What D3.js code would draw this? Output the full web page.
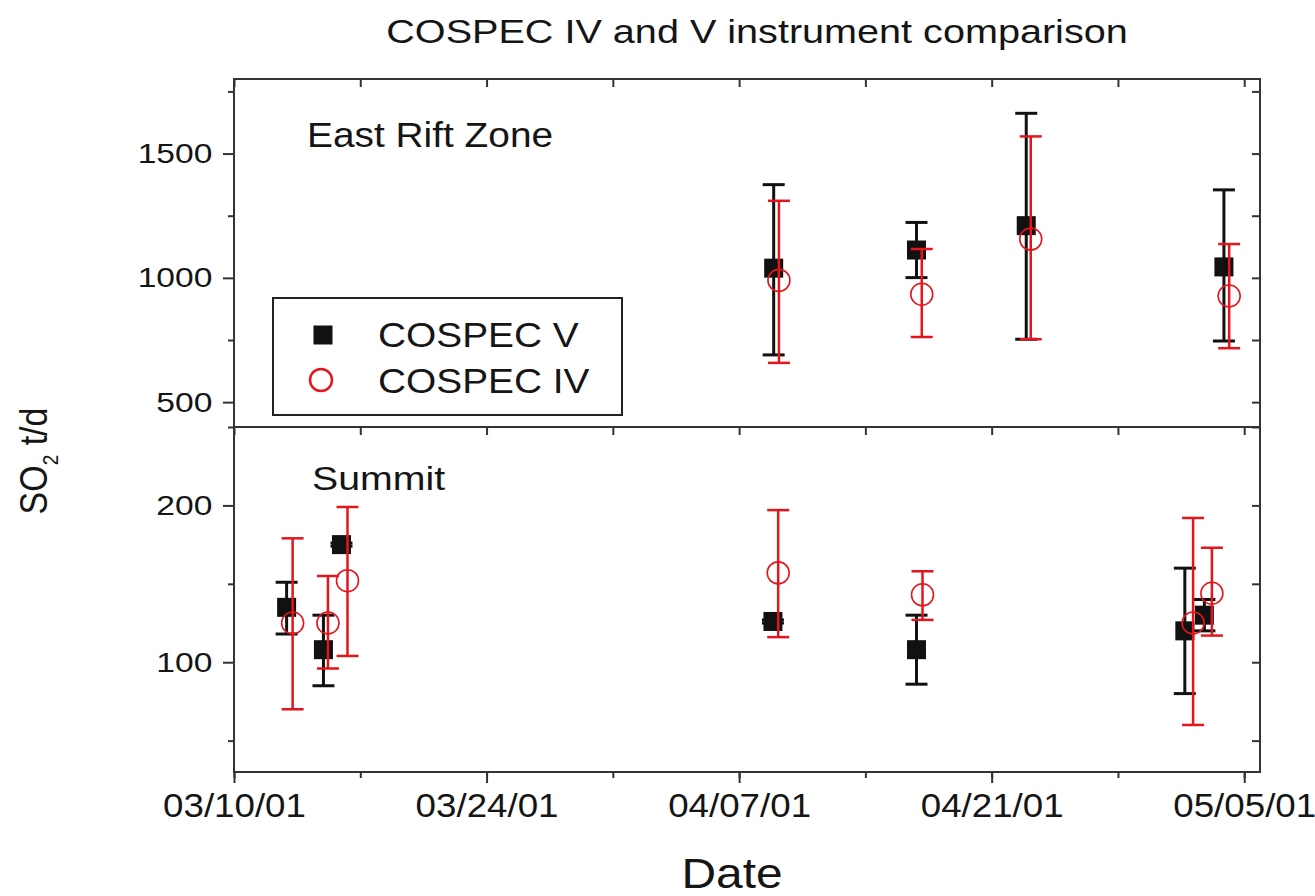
<!DOCTYPE html>
<html>
<head>
<meta charset="utf-8">
<script src="https://cdn.jsdelivr.net/npm/d3@7"></script>
<style>
	body { margin: 0; background: #fff; }
	text { font-family: "Liberation Sans", Arial, sans-serif; fill: #151515; }
</style>
</head>
<body>
<script>
// tick dates on the x axis (every two weeks)
var tickDates = ["2001-03-10", "2001-03-24", "2001-04-07", "2001-04-21", "2001-05-05"];

// East Rift Zone, COSPEC V
var erzDatesV = ["2001-04-08T22:00", "2001-04-16T20:00", "2001-04-22T22:00", "2001-05-03T21:00"];
var erzV    = [1039, 1112, 1210, 1044];
var erzV_lo = [690, 1001, 753, 746];
var erzV_hi = [1375, 1223, 1662, 1354];

// East Rift Zone, COSPEC IV
var erzDatesIV = ["2001-04-09T05:00", "2001-04-17T03:00", "2001-04-23T04:00", "2001-05-04T04:00"];
var erzIV    = [990, 934, 1156, 927];
var erzIV_lo = [658, 762, 753, 717];
var erzIV_hi = [1310, 1116, 1569, 1136];

// Summit, COSPEC V
var sumDatesV = ["2001-03-12T22:00", "2001-03-14T23:00", "2001-03-15T23:00", "2001-04-08T21:00",
	"2001-04-16T20:00", "2001-05-01T17:00", "2001-05-02T19:00"];
var sumV    = [135, 108, 175, 126, 108, 120, 130];
var sumV_lo = [118, 85, 174, 125, 86, 80, 120];
var sumV_hi = [151, 130, 176, 127, 130, 160, 140];

// Summit, COSPEC IV
var sumDatesIV = ["2001-03-13T06:00", "2001-03-15T05:00", "2001-03-16T07:00", "2001-04-09T04:00",
	"2001-04-17T04:00", "2001-05-02T04:00", "2001-05-03T05:00"];
var sumIV    = [125, 125, 152, 157, 143, 125, 144];
var sumIV_lo = [70, 96, 104, 116, 127, 60, 117];
var sumIV_hi = [179, 155, 199, 197, 158, 192, 173];

var erzTicks = [500, 1000, 1500], erzMinor = [750, 1250, 1750];
var sumTicks = [100, 200], sumMinor = [50, 150, 250];

var parseDay = d3.timeParse("%Y-%m-%d");
var parseTime = d3.timeParse("%Y-%m-%dT%H:%M");

var red = "#e3161c", black = "#111";

var svg = d3.select("body").append("svg")
	.attr("width", 1315)
	.attr("height", 896);

// plot area (panel edges)
var pLeft = 234, pRight = 1260, pTop = 79, pMid = 427, pBottom = 772;

var x = d3.scaleTime()
	.domain([parseDay("2001-03-10"), parseTime("2001-05-05T21:00")])
	.range([pLeft, pRight]);
var yTop = d3.scaleLinear().domain([400, 1800]).range([pMid, pTop]);
var yBot = d3.scaleLinear().domain([30, 250]).range([pBottom, pMid]);

var majorX = tickDates.map(parseDay);
var minorX = d3.timeDay.range(parseDay("2001-03-10"), x.domain()[1], 7);

// stretched text helper (the original type is a bit wide)
function label(px, py, str, size, sx, anchor) {
	return svg.append("text")
		.attr("transform", "translate(" + px + "," + py + ") scale(" + sx + ",1)")
		.attr("font-size", size)
		.style("text-anchor", anchor || "start")
		.text(str);
}

function noDomain(g) {
	g.select(".domain").remove();
	g.selectAll("line").attr("stroke", "#333").attr("stroke-width", 2);
}

// ---- x axes
svg.append("g").attr("transform", "translate(0," + pBottom + ")")
	.call(d3.axisBottom(x).tickValues(minorX).tickSize(6).tickFormat(""))
	.call(noDomain);
var xAxis = svg.append("g").attr("transform", "translate(0," + pBottom + ")")
	.call(d3.axisBottom(x).tickValues(majorX).tickSize(11).tickPadding(10).tickFormat(d3.timeFormat("%m/%d/%y")))
	.call(noDomain);
xAxis.selectAll("text").attr("font-size", 34).attr("font-family", null).attr("fill", "#151515")
	.attr("transform", "scale(1.08,1)");

// inner ticks on the top edges of both panels
[pTop, pMid].forEach(function(yy) {
	svg.append("g").attr("transform", "translate(0," + yy + ")")
		.call(d3.axisBottom(x).tickValues(minorX).tickSize(8).tickFormat(""))
		.call(noDomain);
});

// ---- y axes
function yAxes(scale, major, minor) {
	var g = svg.append("g").attr("transform", "translate(" + pLeft + ",0)")
		.call(d3.axisLeft(scale).tickValues(major).tickSize(11).tickPadding(7).tickFormat(d3.format("d")))
		.call(noDomain);
	g.selectAll("text").attr("font-size", 28).attr("font-family", null).attr("fill", "#151515")
		.attr("transform", "scale(1.2,1)");
	svg.append("g").attr("transform", "translate(" + pLeft + ",0)")
		.call(d3.axisLeft(scale).tickValues(minor).tickSize(6).tickFormat(""))
		.call(noDomain);
	svg.append("g").attr("transform", "translate(" + pRight + ",0)")
		.call(d3.axisRight(scale).tickValues(major.concat(minor)).tickSize(-8).tickFormat(""))
		.call(noDomain);
}
yAxes(yTop, erzTicks, erzMinor);
yAxes(yBot, sumTicks, sumMinor);

// frame and panel divider
svg.append("rect")
	.attr("x", pLeft).attr("y", pTop)
	.attr("width", pRight - pLeft).attr("height", pBottom - pTop)
	.attr("fill", "none").attr("stroke", "#333").attr("stroke-width", 2);
svg.append("line")
	.attr("x1", pLeft).attr("x2", pRight).attr("y1", pMid).attr("y2", pMid)
	.attr("stroke", "#333").attr("stroke-width", 2);

// ---- data
function series(dates, vals, lo, hi) {
	return dates.map(function(d, i) {
		return {date: parseTime(d), v: vals[i], lo: lo[i], hi: hi[i]};
	});
}

function errorBars(data, y, color, w, cap) {
	var g = svg.append("g").attr("stroke", color).attr("stroke-width", w);
	data.forEach(function(d) {
		var cx = x(d.date);
		g.append("line").attr("x1", cx).attr("x2", cx).attr("y1", y(d.lo)).attr("y2", y(d.hi));
		g.append("line").attr("x1", cx - cap).attr("x2", cx + cap).attr("y1", y(d.lo)).attr("y2", y(d.lo));
		g.append("line").attr("x1", cx - cap).attr("x2", cx + cap).attr("y1", y(d.hi)).attr("y2", y(d.hi));
	});
}

function squares(data, y) {
	svg.append("g").selectAll("rect").data(data).enter().append("rect")
		.attr("x", function(d) { return x(d.date) - 9.5; })
		.attr("y", function(d) { return y(d.v) - 9.5; })
		.attr("width", 19).attr("height", 19)
		.attr("fill", black);
}

function circles(data, y) {
	svg.append("g").selectAll("circle").data(data).enter().append("circle")
		.attr("cx", function(d) { return x(d.date); })
		.attr("cy", function(d) { return y(d.v); })
		.attr("r", 11)
		.attr("fill", "none")
		.attr("stroke", red).attr("stroke-width", 1.6);
}

var erzVdata = series(erzDatesV, erzV, erzV_lo, erzV_hi);
var erzIVdata = series(erzDatesIV, erzIV, erzIV_lo, erzIV_hi);
var sumVdata = series(sumDatesV, sumV, sumV_lo, sumV_hi);
var sumIVdata = series(sumDatesIV, sumIV, sumIV_lo, sumIV_hi);

errorBars(erzVdata, yTop, black, 3, 11);
squares(erzVdata, yTop);
errorBars(erzIVdata, yTop, red, 2.5, 11);
circles(erzIVdata, yTop);

errorBars(sumVdata, yBot, black, 3, 11);
squares(sumVdata, yBot);
errorBars(sumIVdata, yBot, red, 2.5, 11);
circles(sumIVdata, yBot);

// ---- texts
label(757, 43, "COSPEC IV and V instrument comparison", 33, 1.2, "middle");
label(307, 147, "East Rift Zone", 35, 1.11);
label(312, 490, "Summit", 33, 1.19);
label(732, 888, "Date", 42, 1.14, "middle");

var ylab = svg.append("text")
	.attr("transform", "translate(47,461) scale(1.12,1) rotate(-90)")
	.attr("font-size", 34)
	.style("text-anchor", "middle");
ylab.append("tspan").text("SO");
ylab.append("tspan").attr("font-size", 19).attr("dy", 10).text("2");
ylab.append("tspan").attr("dy", -10).text(" t/d");

// ---- legend
svg.append("rect")
	.attr("x", 273).attr("y", 298).attr("width", 349).attr("height", 117)
	.attr("fill", "#fff").attr("stroke", "#222").attr("stroke-width", 2);
svg.append("rect")
	.attr("x", 313.5).attr("y", 325.5).attr("width", 19).attr("height", 19)
	.attr("fill", black);
svg.append("circle")
	.attr("cx", 321).attr("cy", 380).attr("r", 11)
	.attr("fill", "none").attr("stroke", red).attr("stroke-width", 2.5);
label(378, 347, "COSPEC V", 35, 1.11);
label(378, 393, "COSPEC IV", 35, 1.11);
</script>
</body>
</html>
